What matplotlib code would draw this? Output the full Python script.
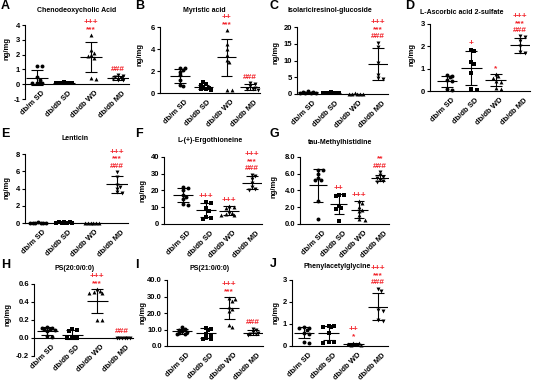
import numpy as np
import matplotlib
matplotlib.use("Agg")
import matplotlib.pyplot as plt
from matplotlib.transforms import ScaledTranslation

plt.rcParams["font.family"] = ["Liberation Sans", "DejaVu Sans"]
plt.rcParams["font.weight"] = "bold"

W, H = 546, 386
RED = "#f2232a"

groups = ["db/m SD", "db/db SD", "db/db WD", "db/db MD"]
markers = ["o", "s", "^", "v"]

# ── data (ng/mg) ──────────────────────────────────────────────────────────────
a_pts = [[1.2, 1.2, 0.5, 0.3, 0.1, 0.05, 0.05, 0.05],
         [0.12, 0.1, 0.1, 0.09, 0.08, 0.08, 0.07, 0.06],
         [3.3, 2.3, 2.1, 2.0, 1.9, 1.8, 0.4, 0.35],
         [0.6, 0.55, 0.5, 0.4, 0.35, 0.3, 0.25]]
a_mean = [0.45, 0.08, 1.85, 0.42]
a_sd = [0.48, 0.02, 1.0, 0.13]
a_marks = [[], [], ["+++", "***"], ["###"]]
a_ticks = [-1, 0, 1, 2, 3, 4]

b_pts = [[2.3, 2.25, 2.1, 1.95, 1.6, 1.2, 0.75, 0.6],
         [1.0, 0.8, 0.7, 0.55, 0.5, 0.4, 0.35, 0.3],
         [5.7, 4.5, 4.0, 3.5, 3.0, 2.8, 0.3, 0.3],
         [0.9, 0.8, 0.6, 0.5, 0.4, 0.35, 0.3]]
b_mean = [1.55, 0.55, 3.25, 0.55]
b_sd = [0.65, 0.2, 1.7, 0.25]
b_marks = [[], [], ["++", "***"], ["###"]]
b_ticks = [0, 2, 4, 6]

c_pts = [[0.8, 0.6, 0.5, 0.4, 0.3, 0.3, 0.2],
         [0.5, 0.4, 0.3, 0.3, 0.2, 0.2, 0.2],
         [0.15, 0.1, 0.1, 0.1, 0.05, 0.05],
         [15.3, 14.0, 9.2, 5.8, 4.9, 4.6]]
c_mean = [0.45, 0.3, 0.1, 8.9]
c_sd = [0.2, 0.1, 0.03, 4.7]
c_marks = [[], [], [], ["+++", "***", "###"]]
c_ticks = [0, 5, 10, 15, 20]

d_pts = [[0.7, 0.68, 0.62, 0.5, 0.45, 0.1, 0.06],
         [1.85, 1.78, 1.3, 1.22, 0.8, 0.1, 0.06],
         [0.75, 0.65, 0.6, 0.45, 0.4, 0.15, 0.1],
         [2.45, 2.4, 2.25, 2.0, 1.75, 1.7]]
d_mean = [0.44, 1.03, 0.48, 2.05]
d_sd = [0.24, 0.78, 0.27, 0.33]
d_marks = [[], ["+"], ["*"], ["+++", "***", "###"]]
d_ticks = [0, 1, 2, 3]

e_pts = [[0.06, 0.05, 0.05, 0.04, 0.04, 0.03, 0.03],
         [0.08, 0.07, 0.06, 0.05, 0.05, 0.04, 0.04, 0.03],
         [0.05, 0.04, 0.04, 0.03, 0.03, 0.02],
         [5.9, 5.3, 4.4, 4.2, 4.0, 3.6, 3.5]]
e_mean = [0.04, 0.05, 0.03, 4.5]
e_sd = [0.01, 0.02, 0.01, 1.0]
e_marks = [[], [], [], ["+++", "***", "###"]]
e_ticks = [0, 2, 4, 6, 8]

f_pts = [[22.2, 21.6, 20.2, 17.2, 16.2, 14.9, 11.9, 11.3],
         [13.0, 12.4, 9.5, 8.0, 4.2, 3.5, 3.0],
         [10.5, 10.0, 9.5, 8.0, 6.5, 6.0, 5.5, 5.5],
         [29.5, 28.5, 27.0, 24.5, 22.0, 21.0, 20.5]]
f_mean = [17.2, 8.5, 8.0, 24.7]
f_sd = [4.0, 4.3, 2.7, 4.0]
f_marks = [[], ["+++"], ["+++"], ["+++", "***", "###"]]
f_ticks = [0, 10, 20, 30, 40]

g_pts = [[6.5, 6.4, 6.0, 5.5, 5.3, 5.2, 2.7, 0.55],
         [3.5, 3.45, 3.3, 2.1, 1.9, 1.85, 0.35],
         [2.7, 2.5, 2.0, 1.7, 1.5, 1.1, 0.55, 0.5],
         [6.2, 5.8, 5.6, 5.5, 5.3, 5.1, 5.0]]
g_mean = [4.6, 2.4, 1.7, 5.5]
g_sd = [2.0, 1.15, 1.0, 0.4]
g_marks = [[], ["++"], ["+++"], ["**", "###"]]
g_ticks = [0.0, 2.0, 4.0, 6.0, 8.0]

h_pts = [[0.12, 0.11, 0.11, 0.1, 0.1, 0.09, 0.08, 0.02, 0.01],
         [0.1, 0.09, 0.08, 0.01, 0.005, 0.005, 0.0],
         [0.54, 0.52, 0.51, 0.5, 0.5, 0.2, 0.2],
         [0.004, 0.003, 0.002, 0.002, 0.001, 0.001]]
h_mean = [0.075, 0.037, 0.41, 0.002]
h_sd = [0.045, 0.05, 0.13, 0.001]
h_marks = [[], [], ["+++", "***"], ["###"]]
h_ticks = [-0.2, 0.0, 0.2, 0.4, 0.6]

i_pts = [[11.8, 10.5, 10.0, 9.0, 8.5, 8.0, 7.5, 7.0],
         [11.0, 10.5, 9.5, 7.0, 6.5, 5.0, 4.5, 4.2],
         [29.0, 28.5, 27.5, 23.5, 22.5, 21.5, 12.8, 11.8],
         [10.5, 9.5, 8.5, 8.0, 7.5, 7.0, 6.5]]
i_mean = [8.9, 7.8, 23.0, 8.0]
i_sd = [1.6, 3.0, 6.5, 1.5]
i_marks = [[], [], ["+++", "***"], ["###"]]
i_ticks = [0.0, 10.0, 20.0, 30.0, 40.0]

j_pts = [[0.85, 0.82, 0.8, 0.75, 0.6, 0.55, 0.2, 0.15],
         [0.92, 0.9, 0.88, 0.85, 0.6, 0.2, 0.18, 0.15],
         [0.15, 0.12, 0.1, 0.08, 0.05, 0.05],
         [2.6, 2.5, 1.65, 1.6, 1.2, 1.15]]
j_mean = [0.6, 0.6, 0.09, 1.78]
j_sd = [0.25, 0.32, 0.04, 0.62]
j_marks = [[], [], ["++", "*"], ["+++", "***", "###"]]
j_ticks = [0, 1, 2, 3]

panels = [
    ("A", "Chenodeoxycholic Acid", a_pts, a_mean, a_sd, a_marks, a_ticks, "{:g}"),
    ("B", "Myristic acid", b_pts, b_mean, b_sd, b_marks, b_ticks, "{:g}"),
    ("C", "Isolariciresinol-glucoside", c_pts, c_mean, c_sd, c_marks, c_ticks, "{:g}"),
    ("D", "L-Ascorbic acid 2-sulfate", d_pts, d_mean, d_sd, d_marks, d_ticks, "{:g}"),
    ("E", "Lenticin", e_pts, e_mean, e_sd, e_marks, e_ticks, "{:g}"),
    ("F", "L-(+)-Ergothioneine", f_pts, f_mean, f_sd, f_marks, f_ticks, "{:g}"),
    ("G", "tau-Methylhistidine", g_pts, g_mean, g_sd, g_marks, g_ticks, "{:.1f}"),
    ("H", "PS(20:0/0:0)", h_pts, h_mean, h_sd, h_marks, h_ticks, "{:.1f}"),
    ("I", "PS(21:0/0:0)", i_pts, i_mean, i_sd, i_marks, i_ticks, "{:.1f}"),
    ("J", "Phenylacetylglycine", j_pts, j_mean, j_sd, j_marks, j_ticks, "{:g}"),
]

# ── layout, in pixels of the 546x386 canvas ───────────────────────────────────
# left = y-axis x, c1/c4 = first/last category x, top/bot = y of first/last tick
layout = {
    "A": dict(left=25, c1=37, c4=118, top=25, bot=99, title=(77, 11), letter=(1, 6), ylab=(7, 49)),
    "B": dict(left=160, c1=180, c4=250, top=27, bot=93, title=(204, 11), letter=(135, 6), ylab=(140, 55)),
    "C": dict(left=297, c1=308, c4=378, top=27, bot=94, title=(330, 11), letter=(270, 6), ylab=(276, 52)),
    "D": dict(left=430, c1=447, c4=520, top=24, bot=91, title=(462, 13), letter=(405, 6), ylab=(412, 55)),
    "E": dict(left=25, c1=38, c4=117, top=154, bot=223, title=(75, 139), letter=(1, 134), ylab=(7, 188)),
    "F": dict(left=164, c1=183, c4=252, top=157, bot=224, title=(210, 141), letter=(135, 134), ylab=(143, 190)),
    "G": dict(left=300, c1=318, c4=380, top=157, bot=224, title=(340, 142), letter=(270, 134), ylab=(274, 187)),
    "H": dict(left=34, c1=47, c4=122, top=284, bot=356, title=(75, 268), letter=(1, 265), ylab=(8, 315)),
    "I": dict(left=167, c1=182, c4=253, top=280, bot=346, title=(210, 268), letter=(135, 265), ylab=(143, 313)),
    "J": dict(left=292, c1=304, c4=378, top=280, bot=346, title=(337, 267), letter=(270, 264), ylab=(276, 313)),
}


def swarm(vals, ppu, max_off, d=3.0):
    """Beeswarm x-offsets in pixels, kept within +-max_off (overlap allowed
    once the band is full, like Prism's scatter-dot plots)."""
    placed, offs = [], []
    cands = [0.0]
    k = 1
    while k * d * 0.9 <= max_off:
        cands += [k * d * 0.9, -k * d * 0.9]
        k += 1
    for v in vals:
        y = v * ppu
        best, best_gap = 0.0, -1.0
        for c in cands:
            gap = min([np.hypot(c - px, y - py) for px, py in placed] or [d])
            if gap >= d:
                best = c
                break
            if gap > best_gap:
                best, best_gap = c, gap
        placed.append((best, y))
        offs.append(best)
    return np.array(offs)


fig = plt.figure(figsize=(W / 100, H / 100), dpi=100)
px_pt = 0.72  # one pixel in points at dpi 100

for key, title, pts, mean, sd, marks, ticks, fmt in panels:
    L = layout[key]
    sp = (L["c4"] - L["c1"]) / 3
    x0 = 1 - (L["c1"] - L["left"]) / sp
    x1 = 4.42
    ax = fig.add_axes([L["left"] / W, 1 - L["bot"] / H,
                       (x1 - x0) * sp / W, (L["bot"] - L["top"]) / H])
    ax.set_xlim(x0, x1)
    ax.set_ylim(ticks[0], ticks[-1])
    ppu = (L["bot"] - L["top"]) / (ticks[-1] - ticks[0])

    for i, vals in enumerate(pts):
        xc = i + 1
        xs = xc + swarm(vals, ppu, 0.36 * sp) / sp
        ax.scatter(xs, vals, s=8, marker=markers[i], c="black", linewidths=0,
                   zorder=3, clip_on=False)
        m, s = mean[i], sd[i]
        ax.hlines(m, xc - 0.42, xc + 0.42, color="black", lw=0.8, zorder=2)
        ax.vlines(xc, m - s, m + s, color="black", lw=0.8, zorder=2)
        ax.hlines([m - s, m + s], xc - 0.24, xc + 0.24, color="black", lw=0.8, zorder=2)
        top = max(max(vals), m + s)
        for k, t in enumerate(reversed(marks[i])):
            ax.annotate(t, (xc, top), xytext=(0, (6 + 7 * k) * px_pt),
                        textcoords="offset points", ha="center", va="center",
                        color=RED, fontsize=6, annotation_clip=False)

    for side in ("top", "right"):
        ax.spines[side].set_visible(False)
    for side in ("left", "bottom"):
        ax.spines[side].set_linewidth(0.8)
    ax.spines["bottom"].set_position(("data", 0))

    ax.set_yticks(ticks)
    ax.set_yticklabels([fmt.format(t) for t in ticks])
    ax.tick_params(axis="y", length=2.5, width=0.8, labelsize=5.5, pad=1)
    ax.set_xticks([1, 2, 3, 4])
    ax.set_xticklabels(groups, rotation=45, ha="right", va="top",
                       rotation_mode="anchor")
    ax.tick_params(axis="x", length=0, labelsize=5.5, pad=4)
    shift = ScaledTranslation(4 / 100, 0, fig.dpi_scale_trans)
    for lab in ax.get_xticklabels():
        lab.set_transform(lab.get_transform() + shift)
    ax.patch.set_visible(False)

    fig.text(L["title"][0] / W, 1 - L["title"][1] / H, title,
             ha="center", va="center", fontsize=5)
    fig.text(L["letter"][0] / W, 1 - L["letter"][1] / H, key,
             ha="left", va="center", fontsize=9)
    fig.text(L["ylab"][0] / W, 1 - L["ylab"][1] / H, "ng/mg",
             ha="center", va="center", rotation=90, fontsize=5.5)

fig.savefig("out.png", dpi=100)
